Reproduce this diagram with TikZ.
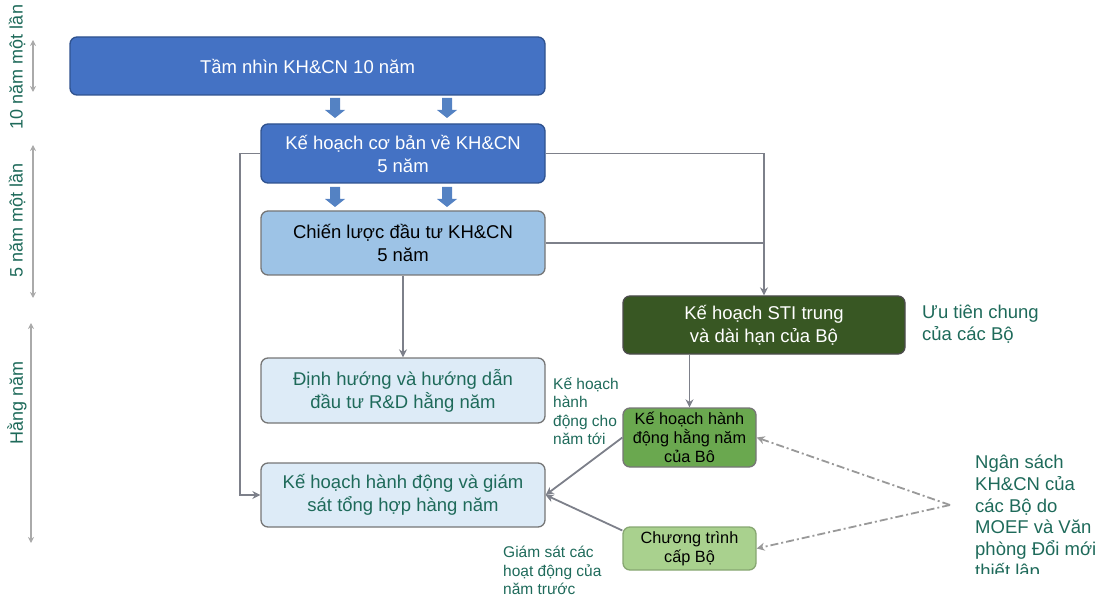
\documentclass[tikz,border=0pt]{standalone}
\usepackage{fontspec}
\setmainfont{Liberation Sans}
\usetikzlibrary{arrows.meta}
\definecolor{blueA}{RGB}{68,114,196}
\definecolor{blueAd}{RGB}{47,82,143}
\definecolor{blueB}{RGB}{157,195,230}
\definecolor{blueC}{RGB}{221,235,247}
\definecolor{arrowblue}{RGB}{84,130,195}
\definecolor{greenD}{RGB}{56,87,35}
\definecolor{greenM}{RGB}{106,168,79}
\definecolor{greenL}{RGB}{169,209,142}
\definecolor{teal}{RGB}{30,106,90}
\definecolor{conn}{RGB}{125,128,138}
\definecolor{boxline}{RGB}{118,118,118}
\definecolor{timeg}{RGB}{170,170,170}
\tikzset{
  box/.style={draw=boxline, line width=1.3pt, rounded corners=7pt, inner sep=0pt, align=center},
  bigtext/.style={font=\fontsize{18.5}{23}\selectfont},
  smalltext/.style={font=\fontsize{16.3}{19}\selectfont},
  blockarrow/.style={fill=arrowblue, draw=none},
  connector/.style={draw=conn, line width=1.8pt, -{Stealth[length=8pt,width=8pt]}},
  plainline/.style={draw=conn, line width=1.8pt},
  dashdot/.style={draw=timeg!90!black, line width=1.8pt, dash pattern=on 8pt off 3pt on 2pt off 3pt, -{Stealth[length=8pt,width=8pt]}},
  timearrow/.style={draw=timeg, line width=1.8pt, {Stealth[length=6pt,width=6pt]}-{Stealth[length=6pt,width=6pt]}},
  label/.style={text=teal, align=left, inner sep=0pt, anchor=north west},
}
\newcommand{\blockarr}[1]{\path[blockarrow] (#1) ++(-5,-10) -- ++(10,0) -- ++(0,12) -- ++(5,0) -- ++(-10,8) -- ++(-10,-8) -- ++(5,0) -- cycle;}
\begin{document}
\begin{tikzpicture}[x=1pt,y=-1pt]
\useasboundingbox (0,0) rectangle (1105,601);

% main boxes
\node[box, bigtext, fill=blueA, draw=blueAd, text=white, minimum width=475pt, minimum height=58pt] (vis) at (307.5,66) {Tầm nhìn KH\&CN 10 năm};
\node[box, bigtext, fill=blueA, draw=blueAd, text=white, minimum width=284pt, minimum height=59pt] (kb) at (403,153.5) {Kế hoạch cơ bản về KH\&CN\\5 năm};
\node[box, bigtext, fill=blueB, text=black, minimum width=284pt, minimum height=64pt] (cl) at (403,243) {Chiến lược đầu tư KH\&CN\\5 năm};
\node[box, bigtext, fill=blueC, text=teal, minimum width=284pt, minimum height=65pt] (dh) at (403,390.5) {Định hướng và hướng dẫn\\đầu tư R\&D hằng năm};
\node[box, bigtext, fill=blueC, text=teal, minimum width=284pt, minimum height=64pt] (ah) at (403,495) {Kế hoạch hành động và giám\\sát tổng hợp hàng năm};
\node[box, bigtext, fill=greenD, draw=black!70, text=white, minimum width=282pt, minimum height=58pt] (sti) at (764,325) {Kế hoạch STI trung\\và dài hạn của Bộ};
\node[box, smalltext, fill=greenM, draw=boxline, text=black, minimum width=133pt, minimum height=59pt] (ap) at (689.5,437.5) {Kế hoạch hành\\động hằng năm\\của Bô};
\node[box, smalltext, fill=greenL, draw=greenL!80!black, text=black, minimum width=133pt, minimum height=43pt] (pr) at (689.5,548.5) {Chương trình\\cấp Bộ};

% block arrows
\coordinate (ba1) at (335,108);
\coordinate (ba2) at (447,108);
\coordinate (ba3) at (335,197);
\coordinate (ba4) at (447,197);
\blockarr{ba1}
\blockarr{ba2}
\blockarr{ba3}
\blockarr{ba4}

% connectors
\draw[connector] (kb.west) -- ++(-20,0) |- (ah.west);
\draw[connector] (kb.east) -| (sti.north);
\draw[plainline] (cl.east) -- (cl.east -| sti.north);
\draw[connector] (cl.south) -- (dh.north);
\draw[connector] (sti.south -| ap.north) -- (ap.north);
\draw[connector] (ap.west) -- (ah.east);
\draw[connector] (pr.165) -- (ah.east);

% dash-dot arrows
\coordinate (src) at (950,505);
\draw[dashdot] (src) -- (ap.east);
\draw[dashdot] (src) -- (pr.east);

% labels
\node[label, font=\fontsize{15.5}{18.5}\selectfont] (l1) at (553,377) {Kế hoạch\\hành\\động cho\\năm tới};
\node[label, font=\fontsize{15.5}{18.5}\selectfont] (l2) at (503,546) {Giám sát các\\hoạt động của\\năm trước};
\node[label, font=\fontsize{18.5}{21.5}\selectfont] (l3) at (922,305) {Ưu tiên chung\\của các Bộ};
\begin{scope}
\clip (960,440) rectangle (1105,573);
\node[label, font=\fontsize{18.5}{21.7}\selectfont] (l4) at (975,455) {Ngân sách\\KH\&CN của\\các Bộ do\\MOEF và Văn\\phòng Đổi mới\\thiết lập};
\end{scope}

% time axis
\node[text=teal, font=\fontsize{18}{21}\selectfont, rotate=90, inner sep=0pt] (t1) at (17,67) {10 năm một lần};
\node[text=teal, font=\fontsize{18}{21}\selectfont, rotate=90, inner sep=0pt] (t2) at (17,220) {5 năm một lần};
\node[text=teal, font=\fontsize{18}{21}\selectfont, rotate=90, inner sep=0pt] (t3) at (17,403) {Hằng năm};
\coordinate (a1t) at (33,40); \coordinate (a1b) at (33,92);
\coordinate (a2t) at (33,145); \coordinate (a2b) at (33,298);
\coordinate (a3t) at (31,323); \coordinate (a3b) at (31,543);
\draw[timearrow] (a1t) -- (a1b);
\draw[timearrow] (a2t) -- (a2b);
\draw[timearrow] (a3t) -- (a3b);
\end{tikzpicture}
\end{document}
